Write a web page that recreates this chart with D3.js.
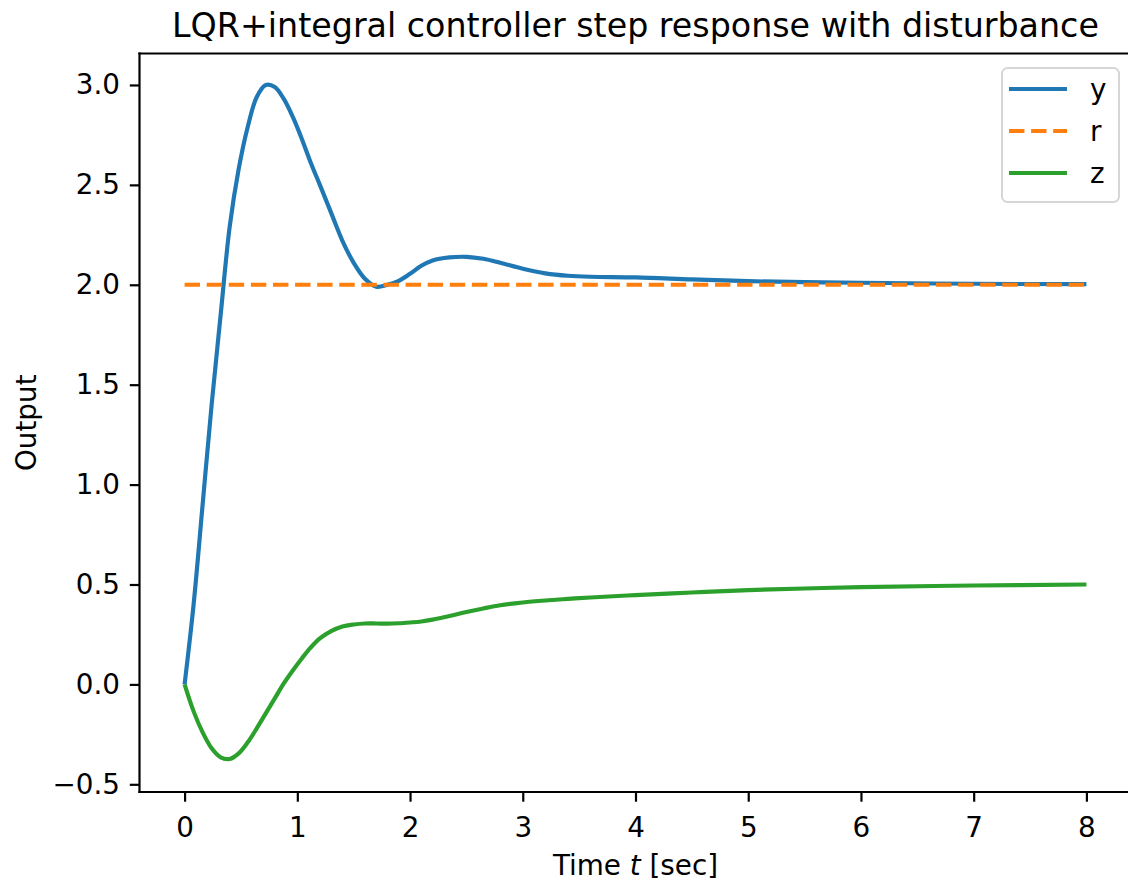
<!DOCTYPE html>
<html>
<head>
<meta charset="utf-8">
<script src="https://cdn.jsdelivr.net/npm/d3@7"></script>
<style>
  html, body { margin: 0; padding: 0; background: #fff; overflow: hidden; }
  svg { display: block; font-family: "DejaVu Sans", sans-serif; }
</style>
</head>
<body>
<div id="chart"></div>
<script>
(() => {
  // time samples [sec]
  const timeData = [0, 0.08, 0.16, 0.24, 0.32, 0.40, 0.48, 0.56, 0.64, 0.72, 0.80, 0.88, 0.96,
    1.04, 1.12, 1.20, 1.30, 1.40, 1.50, 1.60, 1.70, 1.80, 1.90, 2.00, 2.10, 2.20, 2.35, 2.50,
    2.65, 2.80, 3.00, 3.20, 3.40, 3.60, 4.00, 4.50, 5.00, 5.50, 6.00, 7.00, 8.00];

  // output y
  const yData = [0, 0.40, 0.90, 1.40, 1.85, 2.29, 2.58, 2.79, 2.94, 3.00, 2.99, 2.93, 2.84,
    2.73, 2.61, 2.50, 2.36, 2.22, 2.11, 2.03, 1.99, 2.00, 2.02, 2.055, 2.095, 2.122, 2.137, 2.14,
    2.13, 2.11, 2.08, 2.057, 2.045, 2.04, 2.037, 2.027, 2.018, 2.013, 2.01, 2.005, 2.003];

  // state z
  const zData = [0, -0.135, -0.24, -0.32, -0.365, -0.373, -0.345, -0.29, -0.22, -0.145, -0.07, 0.005, 0.07,
    0.13, 0.185, 0.23, 0.267, 0.29, 0.30, 0.305, 0.305, 0.304, 0.306, 0.31, 0.315, 0.324, 0.342, 0.362,
    0.38, 0.396, 0.41, 0.42, 0.428, 0.435, 0.447, 0.46, 0.472, 0.48, 0.487, 0.495, 0.5];

  // reference r
  const rTime = [0, 8];
  const rData = [2, 2];

  const xTicks = [0, 1, 2, 3, 4, 5, 6, 7, 8];
  const yTicks = [-0.5, 0, 0.5, 1.0, 1.5, 2.0, 2.5, 3.0];
  const yTickLabels = ['\u22120.5', '0.0', '0.5', '1.0', '1.5', '2.0', '2.5', '3.0'];

  const legendItems = [
    { name: 'y', color: '#1f77b4', dash: null },
    { name: 'r', color: '#ff7f0e', dash: '15.4,6.7' },
    { name: 'z', color: '#2ca02c', dash: null }
  ];

  const W = 1128, H = 882;
  const plot = { left: 139.5, right: 1131.5, top: 53.5, bottom: 792 };
  const fs = 27.8;

  const svg = d3.select('#chart').append('svg')
    .attr('width', W).attr('height', H);
  svg.append('rect').attr('width', W).attr('height', H).attr('fill', '#fff');

  const xScale = d3.scaleLinear().domain([-0.4, 8.4]).range([plot.left, plot.right]);
  const yScale = d3.scaleLinear().domain([-0.5385, 3.1575]).range([plot.bottom, plot.top]);

  svg.append('clipPath').attr('id', 'clip')
    .append('rect')
    .attr('x', plot.left).attr('y', plot.top)
    .attr('width', plot.right - plot.left).attr('height', plot.bottom - plot.top);

  const line = d3.line()
    .x(d => xScale(d[0]))
    .y(d => yScale(d[1]))
    .curve(d3.curveCatmullRom.alpha(0.5));

  const series = [
    { pts: d3.zip(timeData, yData), color: '#1f77b4', dash: null },
    { pts: d3.zip(rTime, rData), color: '#ff7f0e', dash: '15.4,6.7' },
    { pts: d3.zip(timeData, zData), color: '#2ca02c', dash: null }
  ];

  const lines = svg.append('g').attr('clip-path', 'url(#clip)');
  series.forEach(s => {
    lines.append('path')
      .attr('d', line(s.pts))
      .attr('fill', 'none')
      .attr('stroke', s.color)
      .attr('stroke-width', 4.17)
      .attr('stroke-linejoin', 'round')
      .attr('stroke-dasharray', s.dash);
  });

  // axes
  const xAxis = svg.append('g')
    .attr('transform', `translate(0,${plot.bottom})`)
    .call(d3.axisBottom(xScale).tickValues(xTicks).tickSize(9.7).tickSizeOuter(0).tickPadding(16)
      .tickFormat(d3.format('d')));
  const yAxis = svg.append('g')
    .attr('transform', `translate(${plot.left},0)`)
    .call(d3.axisLeft(yScale).tickValues(yTicks).tickSize(9.7).tickSizeOuter(0).tickPadding(9.8)
      .tickFormat((d, i) => yTickLabels[i]));

  [xAxis, yAxis].forEach(ax => {
    ax.select('.domain').remove();
    ax.selectAll('.tick line').attr('stroke', '#000').attr('stroke-width', 2.2);
    ax.selectAll('.tick text')
      .attr('fill', '#000')
      .attr('font-size', fs)
      .attr('font-family', '"DejaVu Sans", sans-serif');
  });

  // spines (right one falls just outside the picture, as in the cropped original)
  const spines = svg.append('g').attr('stroke', '#000').attr('stroke-width', 2.2)
    .attr('stroke-linecap', 'square');
  spines.append('line').attr('x1', plot.left).attr('x2', plot.left).attr('y1', plot.top).attr('y2', plot.bottom);
  spines.append('line').attr('x1', plot.left).attr('x2', plot.right).attr('y1', plot.bottom).attr('y2', plot.bottom);
  spines.append('line').attr('x1', plot.left).attr('x2', plot.right).attr('y1', plot.top).attr('y2', plot.top);
  spines.append('line').attr('x1', plot.right).attr('x2', plot.right).attr('y1', plot.top).attr('y2', plot.bottom);

  // title and labels
  svg.append('text')
    .attr('x', (plot.left + plot.right) / 2).attr('y', 36.8)
    .attr('text-anchor', 'middle')
    .attr('font-size', 33.3)
    .text('LQR+integral controller step response with disturbance');

  const xl = svg.append('text')
    .attr('x', (plot.left + plot.right) / 2).attr('y', 875)
    .attr('text-anchor', 'middle')
    .attr('font-size', fs);
  xl.append('tspan').text('Time ');
  xl.append('tspan').attr('font-style', 'italic').text('t');
  xl.append('tspan').text(' [sec]');

  svg.append('text')
    .attr('transform', `translate(35.5,${(plot.top + plot.bottom) / 2}) rotate(-90)`)
    .attr('text-anchor', 'middle')
    .attr('font-size', fs)
    .text('Output');

  // legend
  const legend = svg.append('g');
  legend.append('rect')
    .attr('x', 1002).attr('y', 68).attr('width', 117).attr('height', 134)
    .attr('rx', 5.5).attr('ry', 5.5)
    .attr('fill', 'rgba(255,255,255,0.8)')
    .attr('stroke', '#d6d6d6').attr('stroke-width', 2);

  legendItems.forEach((d, i) => {
    const cy = 89 + i * 42;
    legend.append('line')
      .attr('x1', 1009).attr('x2', 1067)
      .attr('y1', cy).attr('y2', cy)
      .attr('stroke', d.color).attr('stroke-width', 4.17)
      .attr('stroke-dasharray', d.dash);
    legend.append('text')
      .attr('x', 1090).attr('y', cy + 10)
      .attr('font-size', fs)
      .text(d.name);
  });
})();
</script>
</body>
</html>
